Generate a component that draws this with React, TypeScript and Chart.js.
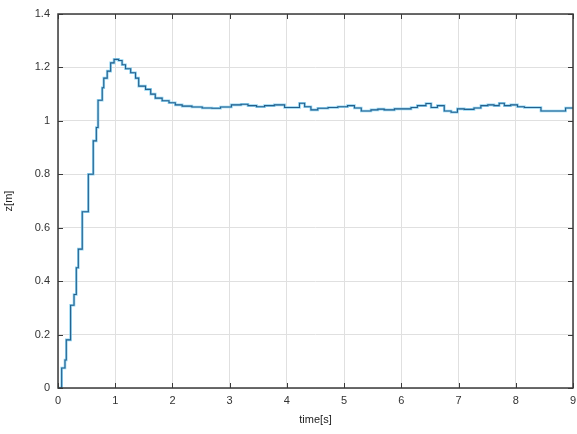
import React, { useEffect, useRef } from "react";
import { Chart, registerables } from "chart.js";

Chart.register(...registerables);

const timeS = [
  0, 0.064, 0.122, 0.145, 0.22, 0.28, 0.32, 0.355, 0.424, 0.53, 0.616, 0.67, 0.7, 0.773, 0.8, 0.86, 0.92, 0.98,
  1.06, 1.12, 1.18, 1.27, 1.355, 1.41, 1.53, 1.62, 1.7, 1.82, 1.94, 2.05, 2.17, 2.34, 2.52, 2.69, 2.84,
  3.03, 3.2, 3.32, 3.47, 3.61, 3.78, 3.96, 4.22, 4.31, 4.42, 4.54, 4.72, 4.89, 5.06, 5.18, 5.3, 5.47,
  5.59, 5.7, 5.88, 6.17, 6.28, 6.43, 6.52, 6.63, 6.75, 6.87, 6.98, 7.1, 7.27, 7.39, 7.51, 7.62, 7.71,
  7.8, 7.91, 8.03, 8.15, 8.29, 8.44, 8.84, 8.87, 9.0,
];
const zM = [
  0, 0.075, 0.105, 0.18, 0.31, 0.35, 0.45, 0.52, 0.66, 0.8, 0.925, 0.975, 1.077, 1.124, 1.16, 1.186, 1.217, 1.23,
  1.226, 1.21, 1.195, 1.18, 1.16, 1.13, 1.118, 1.1, 1.085, 1.075, 1.068, 1.06, 1.055, 1.052, 1.048, 1.047, 1.052,
  1.06, 1.062, 1.057, 1.053, 1.057, 1.06, 1.05, 1.066, 1.053, 1.041, 1.047, 1.05, 1.053, 1.057, 1.048, 1.037, 1.041,
  1.044, 1.041, 1.045, 1.05, 1.057, 1.065, 1.05, 1.057, 1.037, 1.032, 1.045, 1.043, 1.048, 1.057, 1.06, 1.057, 1.066,
  1.057, 1.06, 1.053, 1.05, 1.05, 1.037, 1.037, 1.048, 1.048,
];
const xTicks = [0, 1, 2, 3, 4, 5, 6, 7, 8, 9];
const yTicks = [0, 0.2, 0.4, 0.6, 0.8, 1, 1.2, 1.4];

const FONT = "'Liberation Sans', Arial, sans-serif";

const boxPlugin = {
  id: "matlabBox",
  afterDatasetsDraw(chart: any) {
    const { ctx, chartArea: a, scales } = chart;
    ctx.save();
    ctx.strokeStyle = "#3a3a3a";
    ctx.lineWidth = 1;
    const tl = 5;
    ctx.beginPath();
    xTicks.forEach((v) => {
      const x = Math.round(scales.x.getPixelForValue(v)) + 0.5;
      ctx.moveTo(x, a.bottom);
      ctx.lineTo(x, a.bottom - tl);
      ctx.moveTo(x, a.top);
      ctx.lineTo(x, a.top + tl);
    });
    yTicks.forEach((v) => {
      const y = Math.round(scales.y.getPixelForValue(v)) + 0.5;
      ctx.moveTo(a.left, y);
      ctx.lineTo(a.left + tl, y);
      ctx.moveTo(a.right, y);
      ctx.lineTo(a.right - tl, y);
    });
    ctx.stroke();
    ctx.lineWidth = 1.5;
    ctx.strokeRect(a.left, a.top, a.right - a.left, a.bottom - a.top);
    ctx.restore();
  },
};

export default function App() {
  const ref = useRef<HTMLCanvasElement>(null);
  useEffect(() => {
    document.body.style.margin = "0";
    const chart = new Chart(ref.current!, {
      type: "line",
      data: {
        datasets: [
          {
            data: timeS.map((t, i) => ({ x: t, y: zM[i] })),
            borderColor: "#245f8c",
            borderWidth: 1.1,
            pointRadius: 0,
            stepped: true,
            fill: false,
          },
          {
            data: timeS.map((t, i) => ({ x: t, y: zM[i] })),
            borderColor: "rgba(125,205,240,0.85)",
            borderWidth: 2.6,
            pointRadius: 0,
            stepped: true,
            fill: false,
          },
        ],
      },
      options: {
        responsive: false,
        animation: false,
        events: [],
        layout: { padding: { top: 14, right: 4, left: 0, bottom: 0 } },
        plugins: { legend: { display: false }, tooltip: { enabled: false } },
        scales: {
          x: {
            type: "linear",
            min: 0,
            max: 9,
            afterBuildTicks: (s: any) => {
              s.ticks = xTicks.map((v) => ({ value: v }));
            },
            afterFit: (s: any) => {
              s.height = 46;
              s.paddingRight = 0;
              s.paddingLeft = 0;
            },
            ticks: {
              color: "#333",
              font: { family: FONT, size: 11 },
              padding: 6,
              maxRotation: 0,
            },
            grid: { color: "#e0e0e0", drawTicks: false, lineWidth: 1 },
            border: { display: false },
            title: {
              display: true,
              text: "time[s]",
              color: "#222",
              font: { family: FONT, size: 11 },
              padding: { top: 0, bottom: 7 },
            },
          },
          y: {
            type: "linear",
            min: 0,
            max: 1.4,
            afterBuildTicks: (s: any) => {
              s.ticks = yTicks.map((v) => ({ value: v }));
            },
            afterFit: (s: any) => {
              s.width = 58;
              s.paddingTop = 0;
              s.paddingBottom = 0;
            },
            ticks: {
              color: "#333",
              font: { family: FONT, size: 11 },
              padding: 8,
              callback: (v: any) => String(Math.round(Number(v) * 10) / 10),
            },
            grid: { color: "#e0e0e0", drawTicks: false, lineWidth: 1 },
            border: { display: false },
            title: {
              display: true,
              text: "z[m]",
              color: "#222",
              font: { family: FONT, size: 11 },
              padding: { top: 2, bottom: 0 },
            },
          },
        },
      },
      plugins: [boxPlugin],
    });
    return () => chart.destroy();
  }, []);
  return (
    <div style={{ position: "fixed", left: 0, top: 0, width: 577, height: 434, background: "#fff" }}>
      <canvas ref={ref} width={577} height={434} style={{ width: 577, height: 434 }} />
    </div>
  );
}
